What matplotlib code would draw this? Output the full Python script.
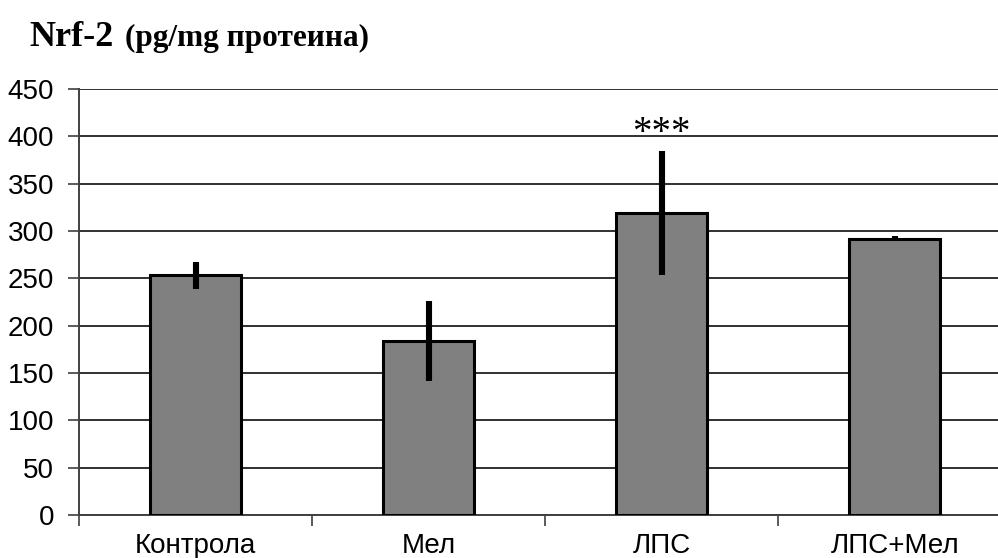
import numpy as np
import matplotlib.pyplot as plt
from matplotlib.ticker import FixedLocator, NullFormatter

# Nrf-2 по групи (pg/mg протеина), средна ± грешка
groups = ['Контрола', 'Мел', 'ЛПС', 'ЛПС+Мел']
means = [253, 184, 319, 292]
errors = [14, 42, 66, 3]
signif = ['', '', '***', '']

fig = plt.figure(figsize=(9.98, 5.58), dpi=100)
ax = fig.add_axes([0.0792, 0.0771, 0.934, 0.7634])

x = np.arange(len(groups))
ax.bar(x, means, width=0.39, color='#808080', edgecolor='black',
       linewidth=2.2, zorder=3)
ax.errorbar(x, means, yerr=errors, fmt='none', ecolor='black',
            elinewidth=4.4, capsize=0, zorder=4)

for xi, m, e, s in zip(x, means, errors, signif):
    if s:
        ax.text(xi, m + e + 8, s, ha='center', va='baseline',
                fontsize=28, family='Liberation Serif', zorder=5)

ax.set_xlim(-0.5, 3.5)
ax.set_ylim(0, 450)
ax.set_yticks(np.arange(0, 451, 50))
ax.yaxis.grid(True, color='#303030', linewidth=1.4, zorder=1)
ax.set_axisbelow(True)

# тикове на x-оста по границите между категориите, етикети в центъра
ax.xaxis.set_major_locator(FixedLocator(x - 0.5))
ax.xaxis.set_major_formatter(NullFormatter())
ax.xaxis.set_minor_locator(FixedLocator(x))
ax.set_xticklabels(groups, minor=True)
ax.tick_params(axis='x', which='minor', length=0, pad=13)
ax.tick_params(axis='x', which='major', length=8, width=1.2, color='#404040')
ax.tick_params(axis='y', length=8, width=1.2, color='#404040', pad=10)

for lbl in ax.get_xticklabels(minor=True) + ax.get_yticklabels():
    lbl.set_fontfamily('Liberation Sans')
    lbl.set_fontsize(20)

ax.spines['top'].set_visible(False)
ax.spines['right'].set_visible(False)
ax.spines['left'].set_color('#404040')
ax.spines['left'].set_linewidth(1.4)
ax.spines['bottom'].set_color('#404040')
ax.spines['bottom'].set_linewidth(1.4)

fig.text(0.029, 0.918, 'Nrf-2', fontsize=26, fontweight='bold',
         family='Liberation Serif', ha='left', va='baseline')
fig.text(0.125, 0.918, '(pg/mg протеина)', fontsize=22.5, fontweight='bold',
         family='Liberation Serif', ha='left', va='baseline')

fig.savefig('out.png', dpi=100)
